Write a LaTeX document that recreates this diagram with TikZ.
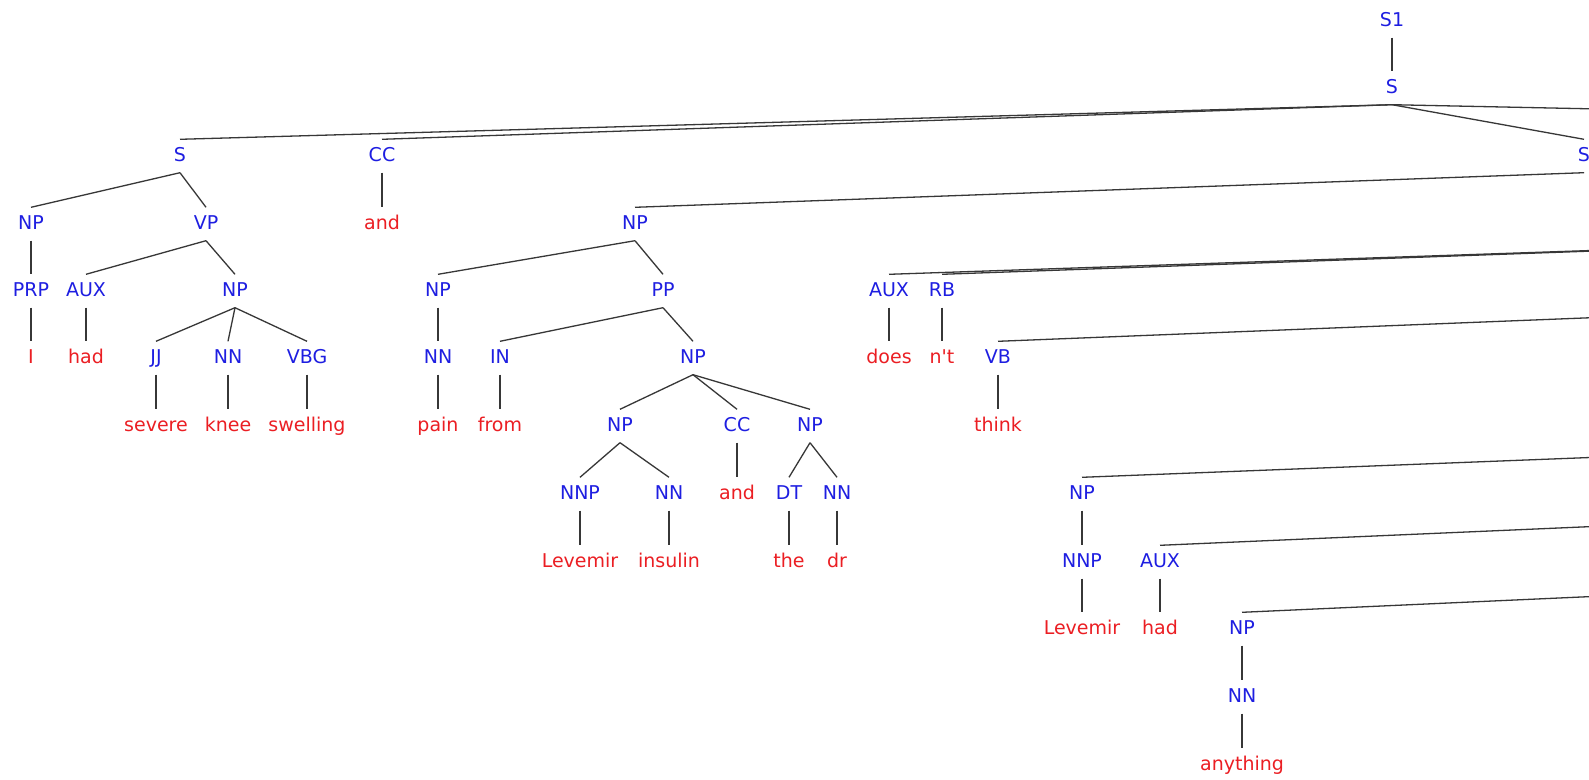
\documentclass[tikz,border=0pt]{standalone}
\usepackage{fontspec}
% plain family without TeX ligatures, so that ' stays a straight quote
\newfontfamily\treefont{DejaVu Sans}
\definecolor{catblue}{RGB}{30,30,225}
\definecolor{wordred}{RGB}{235,30,35}
\definecolor{edgegray}{RGB}{55,55,55}
\begin{document}
\begin{tikzpicture}[x=1pt,y=-1pt,
  tnode/.style={inner sep=0pt,minimum height=33pt,text height=14pt,text depth=4pt,
    font=\treefont\fontsize{19}{19}\selectfont},
  cat/.style={tnode,text=catblue},
  wrd/.style={tnode,text=wordred},
  edge/.style={draw=edgegray,line width=1.3pt}]
\clip (0,0) rectangle (1589,779);
\fill[white] (0,0) rectangle (1589,779);

% top of the tree
\node[cat] (s1) at (1392,21) {S1};
\node[cat] (s0) at (1392,88) {S};
\node[cat] (sa) at (180,156) {S};
\node[cat] (cc1) at (382,156) {CC};
\node[cat] (sb) at (1584,156) {S};

% first conjunct: I had severe knee swelling
\node[cat] (np1) at (31,224) {NP};
\node[cat] (vp1) at (206,224) {VP};
\node[cat] (prp) at (31,291) {PRP};
\node[cat] (aux1) at (86,291) {AUX};
\node[cat] (np2) at (235,291) {NP};
\node[wrd] (wI) at (31,358) {I};
\node[wrd] (whad1) at (86,358) {had};
\node[cat] (jj) at (156,358) {JJ};
\node[cat] (nn1) at (228,358) {NN};
\node[cat] (vbg) at (307,358) {VBG};
\node[wrd] (wsevere) at (156,426) {severe};
\node[wrd] (wknee) at (228,426) {knee};
\node[wrd] (wswelling) at (307,426) {swelling};

% conjunction
\node[wrd] (and1) at (382,224) {and};

% subject of the second conjunct
\node[cat] (np5) at (635,224) {NP};
\node[cat] (np6) at (438,291) {NP};
\node[cat] (pp) at (663,291) {PP};
\node[cat] (nn2) at (438,358) {NN};
\node[cat] (in) at (500,358) {IN};
\node[cat] (np7) at (693,358) {NP};
\node[wrd] (wpain) at (438,426) {pain};
\node[wrd] (wfrom) at (500,426) {from};
\node[cat] (np8) at (620,426) {NP};
\node[cat] (cc2) at (737,426) {CC};
\node[cat] (np9) at (810,426) {NP};
\node[cat] (nnp1) at (580,494) {NNP};
\node[cat] (nn3) at (669,494) {NN};
\node[wrd] (wand2) at (737,494) {and};
\node[cat] (dt) at (789,494) {DT};
\node[cat] (nn4) at (837,494) {NN};
\node[wrd] (wlev1) at (580,562) {Levemir};
\node[wrd] (winsulin) at (669,562) {insulin};
\node[wrd] (wthe) at (789,562) {the};
\node[wrd] (wdr) at (837,562) {dr};

% verb phrase of the second conjunct
\node[cat] (aux2) at (889,291) {AUX};
\node[cat] (rb) at (942,291) {RB};
\node[wrd] (wdoes) at (889,358) {does};
\node[wrd] (wnt) at (942,358) {n't};
\node[cat] (vb) at (998,358) {VB};
\node[wrd] (wthink) at (998,426) {think};
\node[cat] (np10) at (1082,494) {NP};
\node[cat] (nnp2) at (1082,562) {NNP};
\node[cat] (aux3) at (1160,562) {AUX};
\node[wrd] (wlev2) at (1082,629) {Levemir};
\node[wrd] (whad2) at (1160,629) {had};
\node[cat] (np11) at (1242,629) {NP};
\node[cat] (nn5) at (1242,697) {NN};
\node[wrd] (wany) at (1242,765) {anything};

% parents lying to the right of the visible part
\coordinate (offR) at (2997,138);
\coordinate (offVPa) at (1901,240);
\coordinate (offVPb) at (1835,308);
\coordinate (offSa) at (1962,443);
\coordinate (offVPc) at (1950,511);
\coordinate (offVPd) at (1980,579);

% edges
\draw[edge] (s1.south) -- (s0.north);
\draw[edge] (s0.south) -- (sa.north);
\draw[edge] (s0.south) -- (cc1.north);
\draw[edge] (s0.south) -- (sb.north);
\draw[edge] (s0.south) -- (offR);

\draw[edge] (sa.south) -- (np1.north);
\draw[edge] (sa.south) -- (vp1.north);
\draw[edge] (np1.south) -- (prp.north);
\draw[edge] (prp.south) -- (wI.north);
\draw[edge] (vp1.south) -- (aux1.north);
\draw[edge] (vp1.south) -- (np2.north);
\draw[edge] (aux1.south) -- (whad1.north);
\draw[edge] (np2.south) -- (jj.north);
\draw[edge] (np2.south) -- (nn1.north);
\draw[edge] (np2.south) -- (vbg.north);
\draw[edge] (jj.south) -- (wsevere.north);
\draw[edge] (nn1.south) -- (wknee.north);
\draw[edge] (vbg.south) -- (wswelling.north);

\draw[edge] (cc1.south) -- (and1.north);

\draw[edge] (sb.south) -- (np5.north);
\draw[edge] (np5.south) -- (np6.north);
\draw[edge] (np5.south) -- (pp.north);
\draw[edge] (np6.south) -- (nn2.north);
\draw[edge] (nn2.south) -- (wpain.north);
\draw[edge] (pp.south) -- (in.north);
\draw[edge] (pp.south) -- (np7.north);
\draw[edge] (in.south) -- (wfrom.north);
\draw[edge] (np7.south) -- (np8.north);
\draw[edge] (np7.south) -- (cc2.north);
\draw[edge] (np7.south) -- (np9.north);
\draw[edge] (np8.south) -- (nnp1.north);
\draw[edge] (np8.south) -- (nn3.north);
\draw[edge] (nnp1.south) -- (wlev1.north);
\draw[edge] (nn3.south) -- (winsulin.north);
\draw[edge] (cc2.south) -- (wand2.north);
\draw[edge] (np9.south) -- (dt.north);
\draw[edge] (np9.south) -- (nn4.north);
\draw[edge] (dt.south) -- (wthe.north);
\draw[edge] (nn4.south) -- (wdr.north);

\draw[edge] (offVPa) -- (aux2.north);
\draw[edge] (offVPa) -- (rb.north);
\draw[edge] (aux2.south) -- (wdoes.north);
\draw[edge] (rb.south) -- (wnt.north);
\draw[edge] (offVPb) -- (vb.north);
\draw[edge] (vb.south) -- (wthink.north);
\draw[edge] (offSa) -- (np10.north);
\draw[edge] (np10.south) -- (nnp2.north);
\draw[edge] (nnp2.south) -- (wlev2.north);
\draw[edge] (offVPc) -- (aux3.north);
\draw[edge] (aux3.south) -- (whad2.north);
\draw[edge] (offVPd) -- (np11.north);
\draw[edge] (np11.south) -- (nn5.north);
\draw[edge] (nn5.south) -- (wany.north);
\end{tikzpicture}
\end{document}
